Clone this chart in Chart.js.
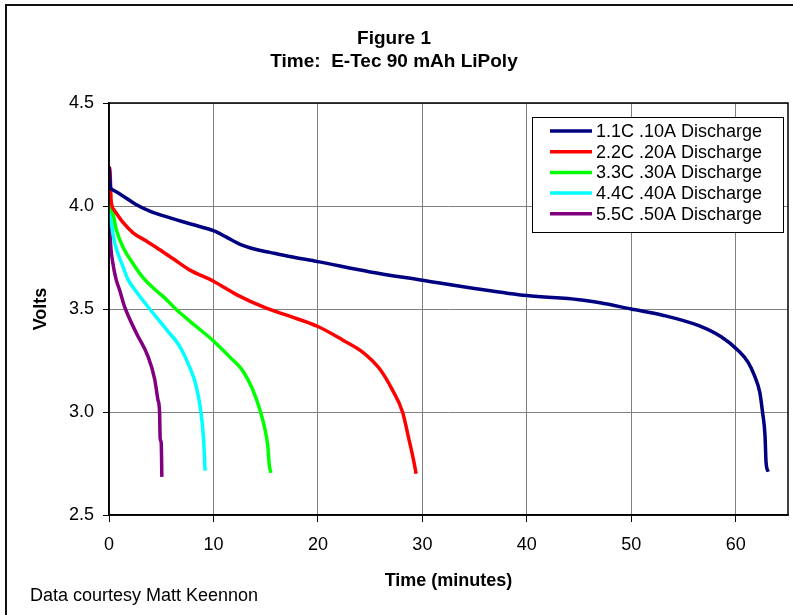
<!DOCTYPE html>
<html>
<head>
<meta charset="utf-8">
<script src="https://cdn.jsdelivr.net/npm/chart.js@4.4.1/dist/chart.umd.min.js"></script>
<style>
  html, body { margin: 0; padding: 0; background: #fff; }
  #wrap { width: 793px; height: 615px; }
</style>
</head>
<body>
<div id="wrap"><canvas id="voltChart" width="793" height="615"></canvas></div>
<script>
// discharge curves (time in minutes, volts)
var seriesLabels = ['1.1C .10A Discharge', '2.2C .20A Discharge', '3.3C .30A Discharge', '4.4C .40A Discharge', '5.5C .50A Discharge'];
var seriesColors = ['#000080', '#ff0000', '#00ff00', '#00ffff', '#800080'];

var time11 = [0, 0.15, 0.3, 1.3, 2.5, 3.9, 6, 8, 10, 11.2, 12.5, 14, 15.4, 17.3, 20, 25, 30, 35, 40, 45, 47, 50, 53, 56.4, 58.6, 60.2, 61.2, 61.8, 62.3, 62.56, 62.8, 62.9, 63.1];
var volts11 = [4.19, 4.09, 4.08, 4.05, 4.01, 3.975, 3.94, 3.91, 3.88, 3.85, 3.815, 3.79, 3.775, 3.755, 3.73, 3.68, 3.64, 3.60, 3.565, 3.545, 3.53, 3.50, 3.47, 3.42, 3.365, 3.30, 3.24, 3.175, 3.095, 3.0, 2.885, 2.755, 2.71];

var time22 = [0, 0.1, 0.2, 0.5, 1.34, 2.3, 3.57, 4.5, 6.1, 7.7, 10, 12.2, 15, 17.3, 20, 22.35, 24.3, 25.9, 27.1, 28.1, 28.7, 29.2, 29.4];
var volts22 = [4.19, 4.17, 4.03, 3.98, 3.92, 3.87, 3.83, 3.80, 3.745, 3.69, 3.635, 3.57, 3.505, 3.465, 3.415, 3.35, 3.29, 3.21, 3.11, 3.0, 2.87, 2.755, 2.70];

var time33 = [0, 0.1, 0.32, 0.7, 1.34, 2.3, 3.3, 4.5, 5.2, 6.6, 8.35, 10, 11.5, 12.8, 13.75, 14.45, 14.87, 15.2, 15.35, 15.5];
var volts33 = [4.18, 4.0, 3.97, 3.885, 3.80, 3.72, 3.65, 3.59, 3.56, 3.49, 3.415, 3.345, 3.27, 3.20, 3.11, 3.01, 2.93, 2.835, 2.74, 2.705];

var time44 = [0, 0.1, 0.23, 0.55, 1.34, 1.8, 2.6, 3.9, 5.5, 6.75, 7.7, 8.35, 8.8, 9.05, 9.2];
var volts44 = [4.17, 3.98, 3.915, 3.82, 3.705, 3.645, 3.585, 3.50, 3.40, 3.32, 3.22, 3.125, 3.0, 2.87, 2.715];

var time55 = [0, 0.05, 0.13, 0.38, 0.7, 1.0, 1.5, 2.6, 3.73, 4.37, 4.68, 4.84, 4.9, 5.0, 5.06];
var volts55 = [4.15, 3.95, 3.835, 3.72, 3.64, 3.595, 3.51, 3.385, 3.27, 3.16, 3.06, 3.0, 2.87, 2.85, 2.685];

var timeTicks = [0, 10, 20, 30, 40, 50, 60];
var voltTicks = [2.5, 3.0, 3.5, 4.0, 4.5];

var FONT = "'Liberation Sans', Arial, sans-serif";

function toPoints(t, v) {
    var pts = [];
    for (var i = 0; i < t.length; i++) {
        pts.push({ x: t[i], y: v[i] });
    }
    return pts;
}

var allTimes = [time11, time22, time33, time44, time55];
var allVolts = [volts11, volts22, volts33, volts44, volts55];

var datasets = [];
for (var i = 0; i < seriesLabels.length; i++) {
    datasets.push({
        label: seriesLabels[i],
        data: toPoints(allTimes[i], allVolts[i]),
        borderColor: seriesColors[i],
        backgroundColor: seriesColors[i],
        borderWidth: 3.5,
        pointRadius: 0,
        cubicInterpolationMode: 'monotone',
        fill: false
    });
}

// frame, plot box, legend inside the plot and the credit line
var decorations = {
    id: 'decorations',
    beforeDraw: function (chart) {
        var ctx = chart.ctx;
        ctx.save();
        ctx.fillStyle = '#fff';
        ctx.fillRect(0, 0, chart.width, chart.height);
        ctx.strokeStyle = '#111';
        ctx.lineWidth = 2;
        ctx.beginPath();
        ctx.moveTo(6, chart.height);
        ctx.lineTo(6, 5);
        ctx.lineTo(chart.width, 5);
        ctx.stroke();
        ctx.restore();
    },
    afterDraw: function (chart) {
        var ctx = chart.ctx;
        var a = chart.chartArea;
        ctx.save();
        ctx.strokeStyle = '#000';
        ctx.lineWidth = 1.5;
        ctx.strokeRect(a.left, a.top, a.right - a.left, a.bottom - a.top);

        // legend box
        var bx = a.right - 256, by = a.top + 14, bw = 251, bh = 115;
        ctx.fillStyle = '#fff';
        ctx.fillRect(bx, by, bw, bh);
        ctx.strokeStyle = '#000';
        ctx.lineWidth = 1;
        ctx.strokeRect(bx + 0.5, by + 0.5, bw, bh);
        ctx.font = '18px ' + FONT;
        ctx.textBaseline = 'middle';
        ctx.textAlign = 'left';
        chart.data.datasets.forEach(function (ds, k) {
            var ry = by + 14 + k * 20.7;
            ctx.strokeStyle = ds.borderColor;
            ctx.lineWidth = 3.5;
            ctx.beginPath();
            ctx.moveTo(bx + 18, ry);
            ctx.lineTo(bx + 60, ry);
            ctx.stroke();
            ctx.fillStyle = '#000';
            ctx.fillText(ds.label, bx + 64, ry + 1);
        });

        ctx.font = '18px ' + FONT;
        ctx.fillStyle = '#000';
        ctx.fillText('Data courtesy Matt Keennon', 30, 596);
        ctx.restore();
    }
};

var ctx = document.getElementById('voltChart').getContext('2d');
var voltChart = new Chart(ctx, {
    type: 'line',
    data: { datasets: datasets },
    options: {
        responsive: false,
        animation: false,
        events: [],
        layout: { padding: { left: 0, right: 5, top: 0, bottom: 0 } },
        plugins: {
            legend: { display: false },
            tooltip: { enabled: false },
            title: {
                display: true,
                text: ['Figure 1', 'Time:  E-Tec 90 mAh LiPoly'],
                color: '#000',
                font: { family: FONT, size: 19, weight: 'bold', lineHeight: 23 / 19 },
                padding: { top: 27.5, bottom: 29.5 }
            }
        },
        scales: {
            x: {
                type: 'linear',
                min: 0,
                max: 65,
                afterFit: function (axis) { axis.height = 100; },
                afterBuildTicks: function (axis) {
                    axis.ticks = timeTicks.map(function (v) { return { value: v }; });
                },
                ticks: {
                    color: '#000',
                    font: { family: FONT, size: 18 },
                    padding: 12,
                    maxRotation: 0,
                    callback: function (v) { return v; }
                },
                grid: { color: '#808080', lineWidth: 1, tickColor: '#000', tickLength: 7 },
                border: { color: '#000', width: 1.5 },
                title: {
                    display: true,
                    text: 'Time (minutes)',
                    color: '#000',
                    font: { family: FONT, size: 18, weight: 'bold' },
                    padding: { bottom: 23 }
                }
            },
            y: {
                min: 2.5,
                max: 4.5,
                afterFit: function (axis) { axis.width = 109; },
                afterBuildTicks: function (axis) {
                    axis.ticks = voltTicks.map(function (v) { return { value: v }; });
                },
                ticks: {
                    color: '#000',
                    font: { family: FONT, size: 18 },
                    padding: 9,
                    callback: function (v) { return Number(v).toFixed(1); }
                },
                grid: { color: '#808080', lineWidth: 1, tickColor: '#000', tickLength: 6 },
                border: { color: '#000', width: 1.5 },
                title: {
                    display: true,
                    text: 'Volts',
                    color: '#000',
                    font: { family: FONT, size: 18, weight: 'bold' },
                    padding: { top: 30 }
                }
            }
        }
    },
    plugins: [decorations]
});
</script>
</body>
</html>
